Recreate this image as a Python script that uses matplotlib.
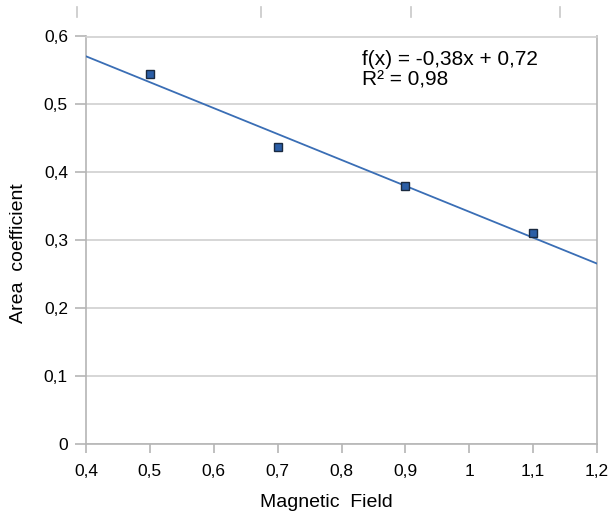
import numpy as np
import matplotlib
matplotlib.use('Agg')
import matplotlib.pyplot as plt
from matplotlib.ticker import FuncFormatter
from matplotlib.lines import Line2D

plt.rcParams['font.family'] = ['Liberation Sans', 'DejaVu Sans']

# data
field = [0.5, 0.7, 0.9, 1.1]
area = [0.545, 0.438, 0.380, 0.310]
x_ticks = [0.4, 0.5, 0.6, 0.7, 0.8, 0.9, 1.0, 1.1, 1.2]
y_ticks = [0, 0.1, 0.2, 0.3, 0.4, 0.5, 0.6]

grey = '#b5b5b5'
line_col = '#3a6eb5'

W, H = 610, 517
fig = plt.figure(figsize=(W / 100, H / 100), dpi=100)
ax = fig.add_axes([86 / W, (H - 444) / H, 511 / W, 407.5 / H])

# linear trend line over full x range
slope, icpt = np.polyfit(field, area, 1)
xs = np.array([x_ticks[0], x_ticks[-1]])
ax.plot(xs, slope * xs + icpt, color=line_col, lw=1.3, zorder=3)
ax.plot(field, area, ls='none', marker='s', ms=5.5, mfc='#2b5ea6', mec='#1a2a40', mew=1.0, zorder=4)

ax.set_xlim(x_ticks[0], x_ticks[-1])
ax.set_ylim(y_ticks[0], y_ticks[-1])
ax.set_xticks(x_ticks)
ax.set_yticks(y_ticks)
comma = FuncFormatter(lambda v, p: ('%g' % round(v, 2)).replace('.', ','))
ax.xaxis.set_major_formatter(comma)
ax.yaxis.set_major_formatter(comma)
ax.yaxis.grid(True, color='#d0d0d0', lw=1.2)
ax.set_axisbelow(True)
for s in ['left', 'bottom', 'right']:
    ax.spines[s].set_color(grey)
    ax.spines[s].set_linewidth(1.2)
ax.spines['top'].set_color('#d0d0d0')
ax.spines['top'].set_linewidth(1.2)
ax.tick_params(axis='y', direction='out', length=8, width=1.2, color=grey, labelsize=12.5, pad=5)
ax.tick_params(axis='x', direction='out', length=6.5, width=1.2, color=grey, labelsize=12.5, pad=8)

ax.set_xlabel('Magnetic  Field', fontsize=14)
ax.xaxis.set_label_coords(0.47, -(507 - 444) / 407.5)
ax.xaxis.label.set_verticalalignment('baseline')
ax.set_ylabel('Area  coefficient', fontsize=14)
ax.yaxis.set_label_coords((19 - 86) / 511, (444 - 253) / 407.5)
ax.yaxis.label.set_verticalalignment('center')

r2 = np.corrcoef(field, area)[0, 1] ** 2
line1 = ('f(x) = %.2fx + %.2f' % (slope, icpt)).replace('.', ',')
line2 = ('R² = %.2f' % r2).replace('.', ',')
ax.text(0.832, (444 - 65) / 679, line1, fontsize=15, va='baseline', ha='left')
ax.text(0.832, (444 - 86) / 679, line2, fontsize=15, va='baseline', ha='left')

# leftover tick marks from the chart above
for xp in [77, 261, 411, 560]:
    fig.add_artist(Line2D([xp / W, xp / W], [1 - 7 / H, 1 - 17 / H], color='#c8c8c8', lw=1.2))

fig.savefig('out.png', dpi=100)
